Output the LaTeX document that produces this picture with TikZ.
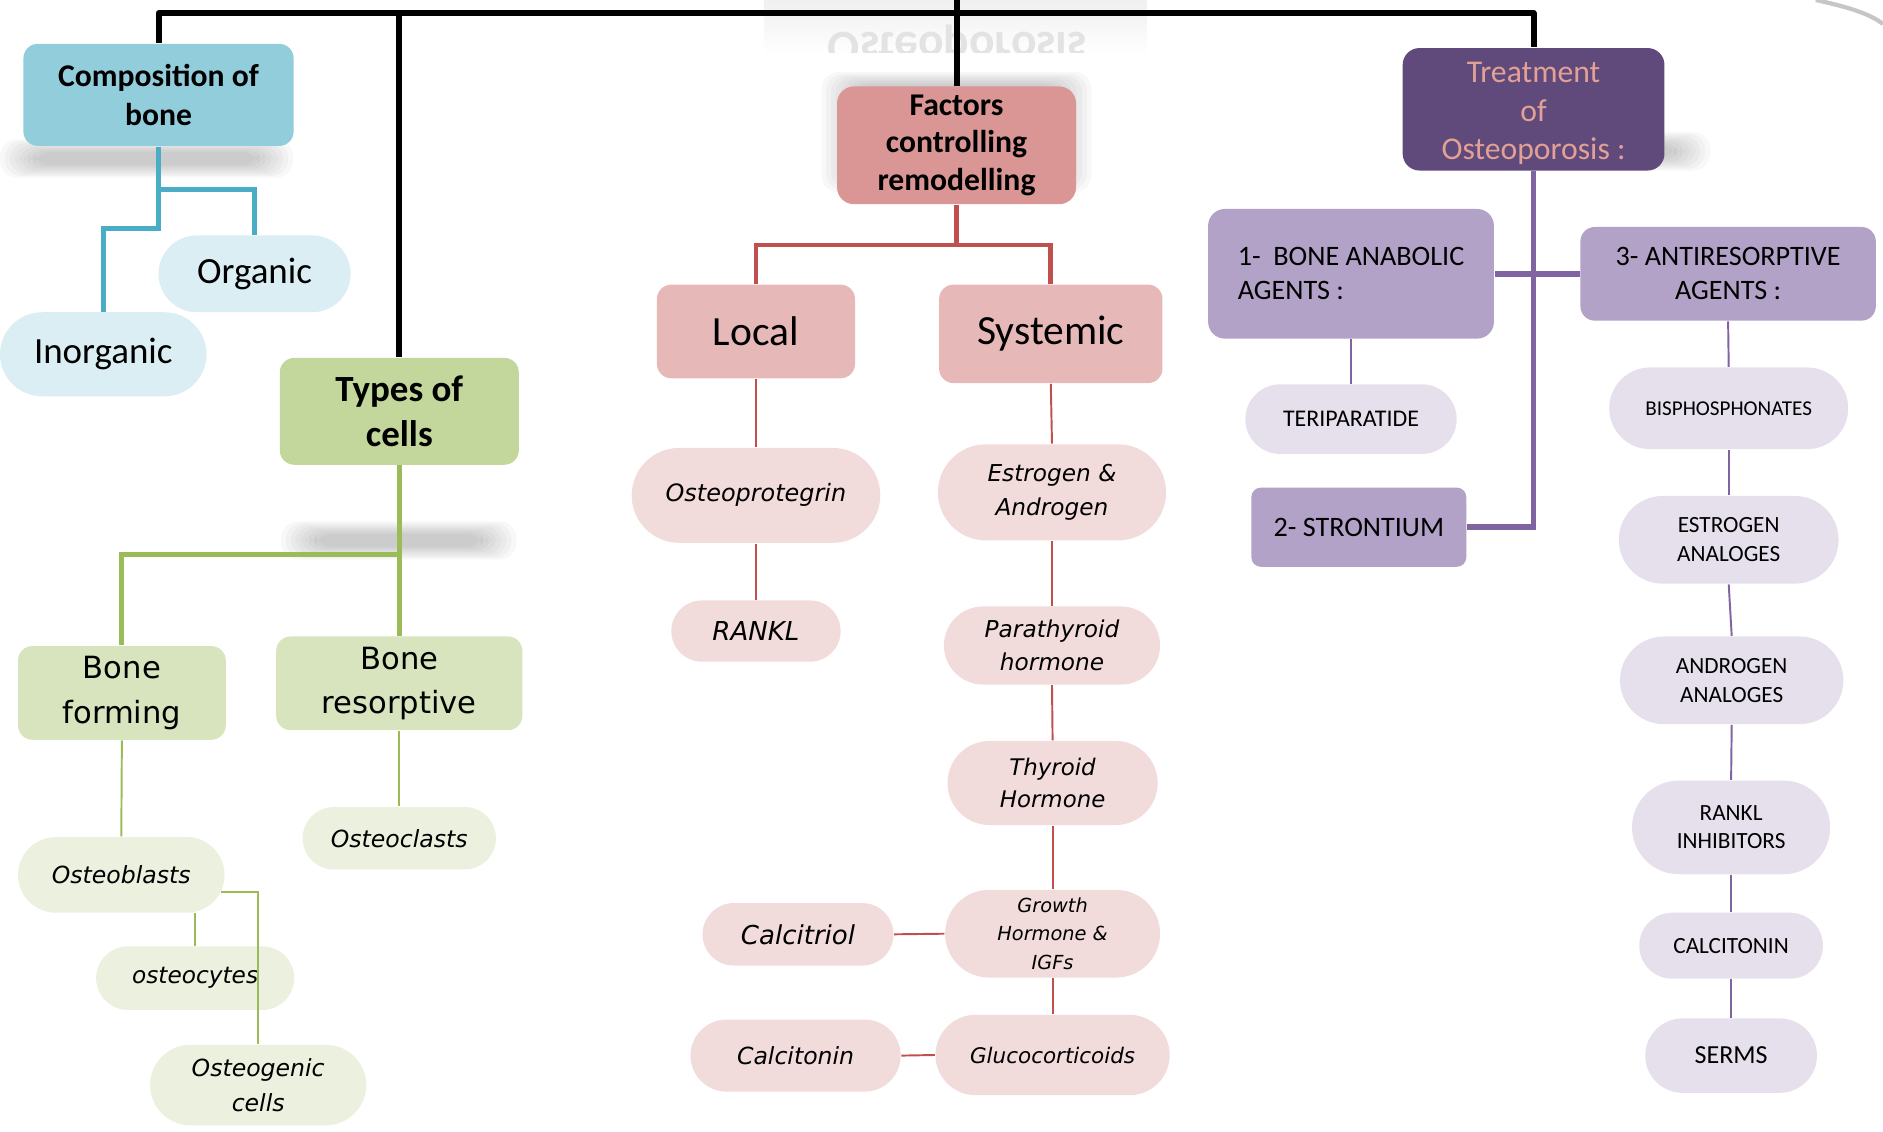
\documentclass[tikz,border=0pt]{standalone}
\usepackage{fontspec}
\setmainfont{Carlito}
\newfontfamily\verdfont{DejaVu Sans}
\usetikzlibrary{shapes.misc,positioning}

\definecolor{compblue}{HTML}{92CDDC}
\definecolor{orgblue}{HTML}{DBEEF4}
\definecolor{linkblue}{HTML}{4BACC6}
\definecolor{cellgreen}{HTML}{C3D69B}
\definecolor{formgreen}{HTML}{D7E4BD}
\definecolor{cellpale}{HTML}{EBF1DE}
\definecolor{linkgreen}{HTML}{9BBB59}
\definecolor{factrose}{HTML}{D99694}
\definecolor{localrose}{HTML}{E6B9B8}
\definecolor{factpale}{HTML}{F2DCDB}
\definecolor{linkred}{HTML}{C0504D}
\definecolor{treatpurple}{HTML}{604A7B}
\definecolor{treattext}{HTML}{E3A095}
\definecolor{agentlilac}{HTML}{B3A2C7}
\definecolor{drugpale}{HTML}{E5E0EC}
\definecolor{linkpurple}{HTML}{8064A2}

\newlength{\pu}\setlength{\pu}{0.012cm}
\newcommand{\fsz}[2]{\fontsize{#1}{#2}\selectfont}
\newcommand{\blurbox}[4]{%
  \foreach \k in {0,...,7}{%
    \fill[black,opacity=0.028,rounded corners=14\pu] (#1+\k*4,#2+\k*1.5) rectangle (#3-\k*4,#4-\k*1.5);}}

\begin{document}
\begin{tikzpicture}[
    x=0.012cm, y=-0.012cm,
    box/.style={rounded corners=12\pu,align=center,inner sep=0pt},
    pill/.style={rounded rectangle,align=center,inner sep=0pt},
    trunk/.style={draw=black,line width=1.7pt,line join=round},
    bluelink/.style={draw=linkblue,line width=1.4pt},
    greenlink/.style={draw=linkgreen,line width=1.4pt},
    redlink/.style={draw=linkred,line width=1.4pt},
    purplelink/.style={draw=linkpurple,line width=1.6pt},
    thingreen/.style={draw=linkgreen,line width=0.55pt},
    thinred/.style={draw=linkred,line width=0.55pt},
    thinpurple/.style={draw=linkpurple,line width=0.55pt}
]
\useasboundingbox (0,0) rectangle (1568,942);

% faint reflection and shadows
\shade[top color=gray!12,bottom color=white] (636,0) rectangle (955,46);
\begin{scope}
\clip (636,0) rectangle (955,44);
\node[text=gray!22,font=\fsz{13.5}{14}\bfseries,anchor=base,inner sep=0pt] (ghost) at (797,27) {\scalebox{1}[-1]{Osteoporosis}};
\end{scope}
\draw[gray!45,line width=1.2pt] (1512,0) .. controls (1540,6) and (1558,12) .. (1568,20);
\blurbox{0}{116}{244}{148}
\blurbox{234}{434}{430}{466}
\blurbox{1300}{110}{1424}{142}
\blurbox{684}{60}{909}{160}

% composition
\node[box,fill=compblue,minimum width=225\pu,minimum height=85\pu,font=\fsz{9}{10.9}\bfseries] (comp) at (132,79) {Composition of\\bone};
\node[pill,fill=orgblue,minimum width=160\pu,minimum height=64\pu,font=\fsz{10.5}{12}] (org) at (212,228) {Organic};
\node[pill,fill=orgblue,minimum width=172\pu,minimum height=70\pu,font=\fsz{10.5}{12}] (inorg) at (86,295) {Inorganic};

% cells
\node[box,fill=cellgreen,minimum width=199\pu,minimum height=89\pu,font=\fsz{10.5}{12.6}\bfseries] (cells) at (332.5,342.5) {Types of\\cells};
\node[box,fill=formgreen,minimum width=173\pu,minimum height=78\pu,font=\verdfont\fsz{8.7}{12.6}] (bform) at (101.5,577) {Bone\\forming};
\node[box,fill=formgreen,minimum width=205\pu,minimum height=78\pu,font=\verdfont\fsz{8.7}{12.6}] (bres) at (332.5,569) {Bone\\resorptive};
\node[pill,fill=cellpale,minimum width=172\pu,minimum height=63\pu,font=\verdfont\itshape\fsz{6.7}{9.9}] (oblast) at (101,728.5) {Osteoblasts};
\node[pill,fill=cellpale,minimum width=161\pu,minimum height=52\pu,font=\verdfont\itshape\fsz{6.7}{9.9}] (oclast) at (332.5,698) {Osteoclasts};
\node[pill,fill=cellpale,minimum width=165\pu,minimum height=53\pu,font=\verdfont\itshape\fsz{6.6}{9.9}] (ocyte) at (162.5,814.5) {osteocytes};
\node[pill,fill=cellpale,minimum width=180\pu,minimum height=67\pu,font=\verdfont\itshape\fsz{6.7}{9.9}] (ogen) at (215,903.5) {Osteogenic\\cells};

% remodelling
\node[box,fill=factrose,minimum width=199\pu,minimum height=98\pu,rounded corners=14\pu,font=\fsz{9}{10.6}\bfseries] (fact) at (796.5,121) {Factors\\controlling\\remodelling};
\node[box,fill=localrose,minimum width=165\pu,minimum height=78\pu,font=\fsz{11.8}{13}] (local) at (629.5,276) {Local};
\node[box,fill=localrose,minimum width=186\pu,minimum height=82\pu,font=\fsz{11.8}{13}] (sys) at (875,278) {Systemic};
\node[pill,fill=factpale,minimum width=207\pu,minimum height=79\pu,font=\verdfont\itshape\fsz{6.8}{9.6}] (opg) at (629.5,412.5) {Osteoprotegrin};
\node[pill,fill=factpale,minimum width=141\pu,minimum height=51\pu,font=\verdfont\itshape\fsz{7.4}{9.6}] (rankl) at (629.5,525.5) {RANKL};
\node[pill,fill=factpale,minimum width=190\pu,minimum height=80\pu,font=\verdfont\itshape\fsz{6.6}{9.5}] (estro) at (876,410) {Estrogen \&\\Androgen};
\node[pill,fill=factpale,minimum width=180\pu,minimum height=65\pu,font=\verdfont\itshape\fsz{6.6}{9.3}] (pth) at (876,537.5) {Parathyroid\\hormone};
\node[pill,fill=factpale,minimum width=175\pu,minimum height=70\pu,font=\verdfont\itshape\fsz{6.5}{9.3}] (thyro) at (876.5,652) {Thyroid\\Hormone};
\node[pill,fill=factpale,minimum width=179\pu,minimum height=73\pu,font=\verdfont\itshape\fsz{5.5}{8.2}] (growth) at (876.5,777.5) {Growth\\Hormone \&\\IGFs};
\node[pill,fill=factpale,minimum width=195\pu,minimum height=67\pu,font=\verdfont\itshape\fsz{6.1}{9}] (gluco) at (876.5,878.5) {Glucocorticoids};
\node[pill,fill=factpale,minimum width=159\pu,minimum height=52\pu,font=\verdfont\itshape\fsz{7.4}{9.6}] (calcitriol) at (664.5,778) {Calcitriol};
\node[pill,fill=factpale,minimum width=175\pu,minimum height=60\pu,font=\verdfont\itshape\fsz{6.7}{9.6}] (calcitonin) at (662.5,879) {Calcitonin};

% treatment
\node[box,fill=treatpurple,text=treattext,minimum width=218\pu,minimum height=102\pu,rounded corners=14\pu,font=\fsz{9}{10.9}] (treat) at (1277,91) {\\[-8\pu]Treatment\\of\\Osteoporosis :};
\node[box,fill=agentlilac,minimum width=238\pu,minimum height=108\pu,rounded corners=14\pu,align=left,font=\fsz{8}{9.6}] (anab) at (1125,228) {1-~~BONE ANABOLIC\\AGENTS :};
\node[pill,fill=drugpale,minimum width=176\pu,minimum height=58\pu,font=\fsz{6.8}{8.2}] (teri) at (1125,349) {TERIPARATIDE};
\node[box,fill=agentlilac,minimum width=179\pu,minimum height=66\pu,rounded corners=8\pu,font=\fsz{8}{9.6}] (stron) at (1131.5,439) {2- STRONTIUM};
\node[box,fill=agentlilac,minimum width=246\pu,minimum height=78\pu,font=\fsz{8}{9.6}] (anti) at (1439,228) {3- ANTIRESORPTIVE\\AGENTS :};
\node[pill,fill=drugpale,minimum width=199\pu,minimum height=68\pu,font=\fsz{6}{8.2}] (bisph) at (1439.5,340) {BISPHOSPHONATES};
\node[pill,fill=drugpale,minimum width=183\pu,minimum height=73\pu,font=\fsz{6.6}{8.2}] (estan) at (1439.5,449.5) {ESTROGEN\\ANALOGES};
\node[pill,fill=drugpale,minimum width=186\pu,minimum height=73\pu,font=\fsz{6.6}{8.2}] (andan) at (1442,566.5) {ANDROGEN\\ANALOGES};
\node[pill,fill=drugpale,minimum width=165\pu,minimum height=78\pu,font=\fsz{6.6}{7.9}] (rinh) at (1441.5,689) {RANKL\\INHIBITORS};
\node[pill,fill=drugpale,minimum width=153\pu,minimum height=55\pu,font=\fsz{6.6}{8.2}] (calctwo) at (1441.5,787.5) {CALCITONIN};
\node[pill,fill=drugpale,minimum width=143\pu,minimum height=62\pu,font=\fsz{7.4}{8.2}] (serms) at (1441.5,879) {SERMS};

% connectors
\coordinate (trunkR) at (1277,11);
\coordinate (trunkT) at (797,0);
\draw[trunk] (comp.north) |- (trunkR) -- (treat.north);
\draw[trunk] (cells.north) -- (cells.north |- trunkR);
\draw[trunk] (fact.north) -- (fact.north |- trunkT);

\coordinate (cb1) at (132,158);
\coordinate (cb2) at (132,190);
\draw[bluelink] (comp.south) -- (cb1) -| (org.north);
\draw[bluelink] (cb1) -- (cb2) -| (inorg.north);

\coordinate (gb) at (332.5,462);
\draw[greenlink] (cells.south) -- (gb) -| (bform.north);
\draw[greenlink] (gb) -- (bres.north);
\draw[thingreen] (bform.south) -- (oblast.north);
\draw[thingreen] (bres.south) -- (oclast.north);
\draw[thingreen] (ocyte.north |- oblast.south) -- (ocyte.north);
\draw[thingreen] (oblast.-10) -| (ogen.north);

\coordinate (rb) at (796.5,204);
\draw[redlink] (fact.south) -- (rb) -| (local.north);
\draw[redlink] (rb) -| (sys.north);
\draw[thinred] (local.south) -- (opg.north);
\draw[thinred] (opg.south) -- (rankl.north);
\draw[thinred] (sys.south) -- (estro.north);
\draw[thinred] (estro.south) -- (pth.north);
\draw[thinred] (pth.south) -- (thyro.north);
\draw[thinred] (thyro.south) -- (growth.north);
\draw[thinred] (growth.south) -- (gluco.north);
\draw[thinred] (calcitriol.east) -- (growth.west);
\draw[thinred] (calcitonin.east) -- (gluco.west);

\draw[purplelink] (treat.south) |- (stron.east);
\draw[purplelink] (anab.east) -- (anti.west);
\draw[thinpurple] (anab.south) -- (teri.north);
\draw[thinpurple] (anti.south) -- (bisph.north);
\draw[thinpurple] (bisph.south) -- (estan.north);
\draw[thinpurple] (estan.south) -- (andan.north);
\draw[thinpurple] (andan.south) -- (rinh.north);
\draw[thinpurple] (rinh.south) -- (calctwo.north);
\draw[thinpurple] (calctwo.south) -- (serms.north);
\end{tikzpicture}
\end{document}
